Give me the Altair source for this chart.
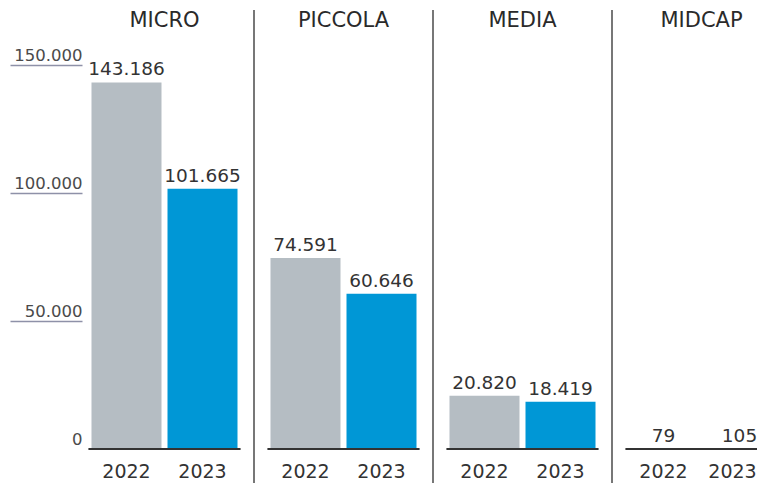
import altair as alt
import pandas as pd

categories = ["MICRO", "PICCOLA", "MEDIA", "MIDCAP"]
years = ["2022", "2023"]
values_2022 = [143186, 74591, 20820, 79]
values_2023 = [101665, 60646, 18419, 105]
y_ticks = [0, 50000, 100000, 150000]

rows = []
for c, v1, v2 in zip(categories, values_2022, values_2023):
    rows.append({"cat": c, "year": "2022", "value": v1})
    rows.append({"cat": c, "year": "2023", "value": v2})
df = pd.DataFrame(rows)
cats_df = pd.DataFrame({"cat": categories})

FONT = "DejaVu Sans"
TEXT = "#333333"

xscale = alt.Scale(domain=categories, range=[0, 716], paddingInner=0, paddingOuter=0)
xoff = alt.XOffset("year:N", scale=alt.Scale(paddingInner=0.079, paddingOuter=0.217))
yscale = alt.Scale(domain=[0, 150000], nice=False)

fmt = "replace(format(datum.value, ','), ',', '.')"
is_edge = "datum.cat === 'MIDCAP' && datum.year === '2023'"

bars = alt.Chart(df).mark_bar().encode(
    x=alt.X("cat:N", scale=xscale, title=None,
            axis=alt.Axis(orient="top", ticks=False, domain=False, labelPadding=34.5,
                          labelFontSize=21, labelColor="#2a2a2a", labelFont=FONT,
                          labelAngle=0, labelAlign="center", labelFlush=False,
                          labelBaseline="bottom")),
    xOffset=xoff,
    y=alt.Y("value:Q", scale=yscale, title=None,
            axis=alt.Axis(values=y_ticks, domain=False, grid=False, tickSize=72,
                          tickColor="#8e91a8", tickWidth=1.4,
                          tickOpacity={"condition": {"test": "datum.value === 0", "value": 0}, "value": 1},
                          labelPadding=-72, labelAlign="right", labelBaseline="alphabetic",
                          labelOffset=-5, labelFontSize=16.5, labelColor="#4a4a4a",
                          labelFont=FONT, offset=-7, labelExpr=fmt)),
    color=alt.Color("year:N", scale=alt.Scale(domain=years, range=["#b5bdc3", "#0097d6"]), legend=None),
)

baseline = alt.Chart(cats_df).mark_bar(
    fill="transparent", stroke="#333333", strokeWidth=2, width=alt.RelativeBandSize(0.85)
).encode(
    x=alt.X("cat:N"),
    y=alt.datum(0),
    y2=alt.datum(0),
)

value_labels = alt.Chart(df).transform_calculate(
    lbl="replace(format(datum.value, ','), ',', '.')"
).mark_text(dy=-13, fontSize=18.5, font=FONT, color=TEXT, baseline="middle").encode(
    x=alt.X("cat:N"), xOffset=xoff, y=alt.Y("value:Q"), text="lbl:N",
)

year_labels = alt.Chart(df).transform_filter(f"!({is_edge})").mark_text(
    dy=23, fontSize=19, font=FONT, color=TEXT, baseline="middle"
).encode(
    x=alt.X("cat:N"), xOffset=xoff, y=alt.datum(0), text="year:N",
)

year_label_edge = alt.Chart(df).transform_filter(is_edge).mark_text(
    dy=23, dx=-7, fontSize=19, font=FONT, color=TEXT, baseline="middle"
).encode(
    x=alt.X("cat:N"), xOffset=xoff, y=alt.datum(0), text="year:N",
)

separators = alt.Chart(cats_df).mark_rule(color="#555555", strokeWidth=1.6).encode(
    x=alt.X("cat:N", bandPosition=1),
    y=alt.value(-55),
    y2=alt.value(431),
)

chart = alt.layer(separators, bars, baseline, value_labels, year_labels, year_label_edge).properties(
    width=682, height=384,
    autosize=alt.AutoSizeParams(type="none"),
    padding={"left": 67, "top": 57, "right": 0, "bottom": 34},
).configure_view(stroke=None)

chart.save("out.html", embed_options={"renderer": "svg", "actions": False})
